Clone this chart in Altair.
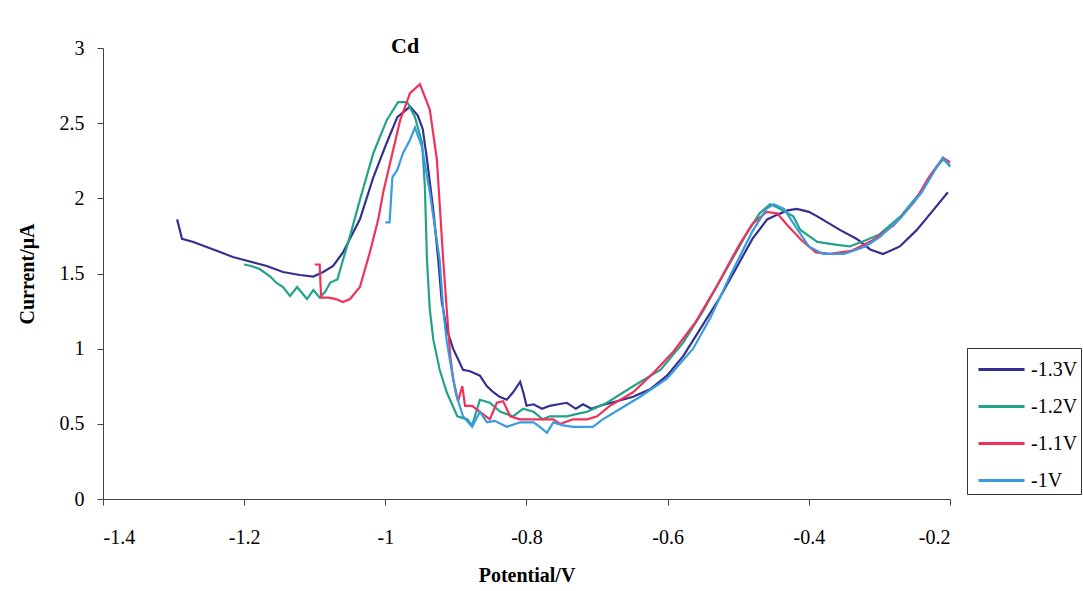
import altair as alt
import pandas as pd

SERIES = ["-1.3V", "-1.2V", "-1.1V", "-1V"]
COLORS = ["#34308f", "#23a38a", "#f0325a", "#3a9be0"]
X_TICKS = [-1.4, -1.2, -1.0, -0.8, -0.6, -0.4, -0.2]
Y_TICKS = [0, 0.5, 1, 1.5, 2, 2.5, 3]

S13 = [(-1.295,1.86),(-1.288,1.73),(-1.272,1.71),(-1.238,1.65),(-1.216,1.61),(-1.192,1.58),(-1.168,1.55),
       (-1.145,1.51),(-1.121,1.49),(-1.102,1.48),(-1.088,1.51),(-1.074,1.55),(-1.06,1.64),(-1.046,1.77),
       (-1.036,1.86),(-1.017,2.14),(-0.998,2.37),(-0.983,2.54),(-0.965,2.61),(-0.954,2.55),(-0.947,2.46),
       (-0.941,2.26),(-0.932,1.92),(-0.925,1.59),(-0.92,1.31),(-0.913,1.13),(-0.904,1.0),(-0.89,0.86),
       (-0.88,0.85),(-0.866,0.82),(-0.856,0.75),(-0.847,0.71),(-0.838,0.68),(-0.828,0.66),(-0.819,0.71),
       (-0.809,0.78),(-0.804,0.70),(-0.8,0.62),(-0.79,0.63),(-0.778,0.60),(-0.767,0.62),(-0.755,0.63),
       (-0.743,0.64),(-0.73,0.60),(-0.72,0.63),(-0.708,0.60),(-0.696,0.62),(-0.672,0.65),(-0.649,0.68),
       (-0.625,0.73),(-0.601,0.82),(-0.578,0.95),(-0.554,1.13),(-0.526,1.34),(-0.50,1.56),(-0.48,1.73),
       (-0.459,1.86),(-0.445,1.89),(-0.43,1.92),(-0.417,1.93),(-0.40,1.91),(-0.388,1.88),(-0.356,1.79),
       (-0.332,1.73),(-0.313,1.66),(-0.295,1.63),(-0.271,1.68),(-0.247,1.79),(-0.224,1.92),(-0.203,2.04)]

S12 = [(-1.20,1.56),(-1.19,1.55),(-1.178,1.53),(-1.163,1.48),(-1.155,1.44),(-1.145,1.41),(-1.135,1.35),
       (-1.125,1.41),(-1.118,1.37),(-1.111,1.33),(-1.102,1.39),(-1.093,1.34),(-1.085,1.38),(-1.078,1.44),
       (-1.068,1.46),(-1.06,1.59),(-1.05,1.75),(-1.036,1.99),(-1.017,2.30),(-0.998,2.52),(-0.982,2.64),
       (-0.969,2.64),(-0.958,2.54),(-0.948,2.37),(-0.944,2.08),(-0.941,1.59),(-0.937,1.26),(-0.932,1.06),
       (-0.923,0.86),(-0.913,0.71),(-0.898,0.55),(-0.884,0.53),(-0.877,0.49),(-0.866,0.66),(-0.852,0.64),
       (-0.837,0.58),(-0.819,0.55),(-0.805,0.60),(-0.79,0.58),(-0.777,0.53),(-0.767,0.55),(-0.743,0.55),
       (-0.725,0.57),(-0.714,0.58),(-0.686,0.64),(-0.649,0.75),(-0.61,0.86),(-0.578,1.04),(-0.55,1.25),
       (-0.52,1.5),(-0.49,1.75),(-0.47,1.9),(-0.455,1.96),(-0.445,1.94),(-0.422,1.88),(-0.412,1.79),
       (-0.388,1.71),(-0.36,1.69),(-0.342,1.68),(-0.32,1.72),(-0.30,1.76),(-0.27,1.88),(-0.24,2.05),
       (-0.22,2.2),(-0.21,2.26),(-0.2,2.22)]

S11 = [(-1.10,1.56),(-1.093,1.56),(-1.091,1.34),(-1.08,1.34),(-1.07,1.33),(-1.06,1.31),(-1.05,1.33),
       (-1.036,1.41),(-1.022,1.64),(-1.01,1.86),(-1.003,2.04),(-0.99,2.30),(-0.979,2.52),(-0.965,2.70),
       (-0.951,2.76),(-0.937,2.59),(-0.927,2.26),(-0.918,1.59),(-0.913,1.26),(-0.908,0.95),(-0.904,0.80),
       (-0.897,0.65),(-0.891,0.75),(-0.887,0.62),(-0.877,0.62),(-0.866,0.58),(-0.852,0.53),(-0.842,0.64),
       (-0.833,0.65),(-0.823,0.55),(-0.809,0.53),(-0.79,0.53),(-0.762,0.53),(-0.752,0.50),(-0.734,0.53),
       (-0.714,0.53),(-0.70,0.55),(-0.682,0.62),(-0.649,0.71),(-0.62,0.84),(-0.592,0.98),(-0.56,1.18),
       (-0.53,1.42),(-0.50,1.68),(-0.48,1.83),(-0.46,1.91),(-0.445,1.90),(-0.43,1.82),(-0.41,1.72),
       (-0.39,1.64),(-0.37,1.63),(-0.34,1.65),(-0.31,1.72),(-0.28,1.82),(-0.25,1.98),(-0.23,2.14),
       (-0.21,2.27),(-0.2,2.24)]

S10 = [(-1.0,1.84),(-0.994,1.84),(-0.99,2.14),(-0.983,2.19),(-0.975,2.30),(-0.965,2.39),(-0.958,2.47),
       (-0.948,2.34),(-0.937,2.04),(-0.923,1.59),(-0.918,1.26),(-0.913,1.05),(-0.908,0.91),(-0.9,0.70),
       (-0.89,0.55),(-0.877,0.48),(-0.866,0.58),(-0.856,0.51),(-0.845,0.52),(-0.828,0.48),(-0.809,0.51),
       (-0.79,0.51),(-0.781,0.48),(-0.771,0.44),(-0.762,0.51),(-0.748,0.49),(-0.734,0.48),(-0.706,0.48),
       (-0.692,0.53),(-0.667,0.60),(-0.639,0.68),(-0.601,0.80),(-0.564,1.0),(-0.54,1.2),(-0.51,1.5),
       (-0.48,1.78),(-0.46,1.93),(-0.45,1.96),(-0.435,1.93),(-0.42,1.82),(-0.40,1.68),(-0.38,1.63),
       (-0.35,1.63),(-0.32,1.68),(-0.30,1.74),(-0.27,1.87),(-0.24,2.04),(-0.22,2.2),(-0.21,2.27),(-0.2,2.21)]

rows = []
for name, pts in zip(SERIES, [S13, S12, S11, S10]):
    for i, (x, y) in enumerate(pts):
        rows.append({"series": name, "V": x, "I": y, "i": i})
df = pd.DataFrame(rows)

FONT = "Liberation Serif"

lines = alt.Chart(df).mark_line(strokeWidth=2.2).encode(
    x=alt.X("V:Q", scale=alt.Scale(domain=[-1.4, -0.2], nice=False),
            axis=alt.Axis(title="Potential/V", values=X_TICKS, labelExpr="toString(datum.value)",
                          labelPadding=22, titlePadding=18)),
    y=alt.Y("I:Q", scale=alt.Scale(domain=[0, 3], nice=False),
            axis=alt.Axis(title="Current/μA", values=Y_TICKS, labelExpr="toString(datum.value)",
                          labelPadding=13, titlePadding=22)),
    color=alt.Color("series:N", scale=alt.Scale(domain=SERIES, range=COLORS),
                    legend=alt.Legend(title=None, orient="none", legendX=864, legendY=300,
                                      symbolType="M-0.59,0H2.12", symbolSize=1156, symbolStrokeWidth=3,
                                      labelFont=FONT, labelFontSize=20, labelColor="black",
                                      rowPadding=8, padding=3, strokeColor="#333",
                                      labelOffset=24)),
    order="i:Q",
)

label = alt.Chart(pd.DataFrame({"V": [-0.972], "I": [3.015], "t": ["Cd"]})).mark_text(
    font=FONT, fontSize=22, fontWeight="bold", color="black", baseline="middle"
).encode(x="V:Q", y="I:Q", text="t:N")

chart = alt.layer(lines, label).properties(
    width=847, height=451,
    autosize=alt.AutoSizeParams(type="none"),
    padding={"left": 103, "top": 48, "right": 133, "bottom": 92},
).configure_view(stroke=None).configure_axis(
    grid=False, domainColor="#444", tickColor="#444", tickSize=6,
    labelFont=FONT, labelFontSize=20, labelColor="black",
    titleFont=FONT, titleFontSize=20, titleFontWeight="bold", titleColor="black",
)

chart.save("out.html", embed_options={"renderer": "svg", "actions": False})
